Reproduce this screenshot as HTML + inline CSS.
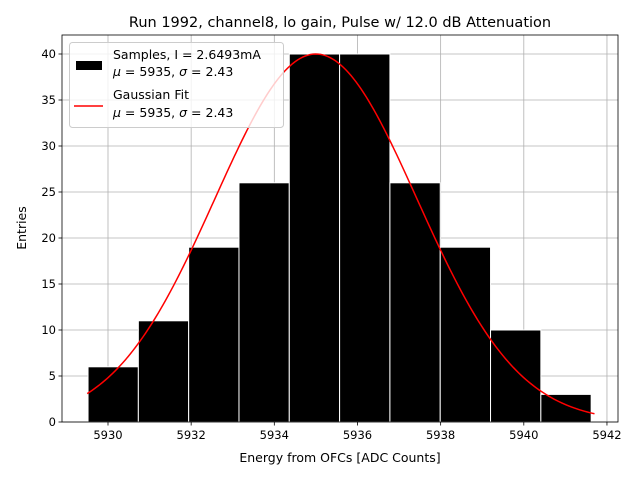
<!DOCTYPE html>
<html><head><meta charset="utf-8"><style>
body{margin:0;background:#fff}
svg text{font-family:"DejaVu Sans","Liberation Sans",sans-serif;fill:#000}
</style></head><body>
<svg id="c" width="640" height="480" xmlns="http://www.w3.org/2000/svg">
<text x="340" y="27" font-size="14.5" text-anchor="middle">Run 1992, channel8, lo gain, Pulse w/ 12.0 dB Attenuation</text>
<g id="grid"></g><g id="bars"></g><g id="fit"></g><g id="axes"></g>
<text x="340" y="462" font-size="12.5" text-anchor="middle">Energy from OFCs [ADC Counts]</text>
<text x="26" y="228" font-size="12.5" text-anchor="middle" transform="rotate(-90 26 228)">Entries</text>
<g>
<rect x="69.5" y="42.5" width="214" height="85" rx="3" fill="#fff" fill-opacity="0.8" stroke="#ccc"/>
<rect x="76" y="61" width="26" height="9" fill="#000"/>
<text x="113" y="59" font-size="12.5">Samples, I = 2.6493mA</text>
<text x="113" y="76" font-size="12.5"><tspan font-style="italic">μ</tspan> = 5935, <tspan font-style="italic">σ</tspan> = 2.43</text>
<line x1="74" y1="106" x2="103" y2="106" stroke="red" stroke-width="1.5"/>
<text x="113" y="99" font-size="12.5">Gaussian Fit</text>
<text x="113" y="117" font-size="12.5"><tspan font-style="italic">μ</tspan> = 5935, <tspan font-style="italic">σ</tspan> = 2.43</text>
</g>
</svg>
<script>
const binEdges=[5929.52,5930.73,5931.94,5933.15,5934.36,5935.57,5936.78,5937.99,5939.2,5940.41,5941.62];
const counts=[6,11,19,26,40,40,26,19,10,3];
const xTicks=[5930,5932,5934,5936,5938,5940,5942];
const yTicks=[0,5,10,15,20,25,30,35,40];
const fitMu=[5935];
const fitSigma=[2.43];
const fitAmp=[40];
const L=62,R=618,T=35,B=422;
const xs=v=>108+(v-5930)*41.58;
const ys=v=>422-v*9.2;
const NS='http://www.w3.org/2000/svg';
function mk(t,a,p){const e=document.createElementNS(NS,t);for(const k in a)e.setAttribute(k,a[k]);document.getElementById(p).appendChild(e);return e;}
xTicks.forEach(t=>{const x=xs(t);
const g=mk('line',{x1:x,x2:x,y1:T,y2:B,stroke:'#b0b0b0','stroke-width':0.8},'grid');


mk('line',{x1:x,x2:x,y1:B,y2:B+3.5,stroke:'#000','stroke-width':0.8},'axes');
const l=mk('text',{x:x,y:B+17,'font-size':11.5,'text-anchor':'middle'},'axes');l.textContent=t;

});
yTicks.forEach(t=>{const y=ys(t);
const g=mk('line',{x1:L,x2:R,y1:y,y2:y,stroke:'#b0b0b0','stroke-width':0.8},'grid');


mk('line',{x1:L-3.5,x2:L,y1:y,y2:y,stroke:'#000','stroke-width':0.8},'axes');
const l=mk('text',{x:L-6,y:y+4,'font-size':11.5,'text-anchor':'end'},'axes');l.textContent=t;

});
counts.forEach((c,i)=>{const x0=xs(binEdges[i]),x1=xs(binEdges[i+1]);
const r=mk('rect',{x:x0,y:ys(c),width:x1-x0,height:ys(0)-ys(c),fill:'#000',stroke:'#fff','stroke-width':1},'bars');

});
let d='';const a=binEdges[0]-0.02,b=binEdges[binEdges.length-1]+0.08;
for(let k=0;k<=200;k++){const v=a+(b-a)*k/200;const y=fitAmp[0]*Math.exp(-Math.pow(v-fitMu[0],2)/(2*fitSigma[0]*fitSigma[0]));d+=(k?'L':'M')+xs(v).toFixed(2)+' '+ys(y).toFixed(2);}
const p=mk('path',{d:d,fill:'none',stroke:'red','stroke-width':1.5},'fit');


const fr=mk('rect',{x:L,y:T,width:R-L,height:B-T,fill:'none',stroke:'#000','stroke-width':0.8},'axes');


</script>
</body></html>
